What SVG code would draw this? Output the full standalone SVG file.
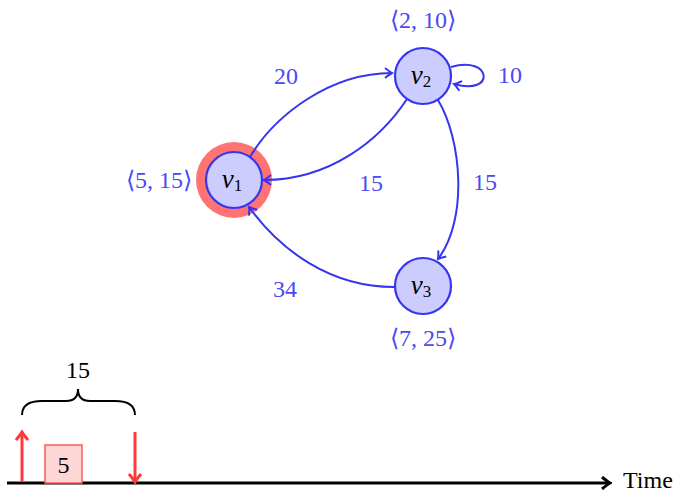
<svg xmlns="http://www.w3.org/2000/svg" width="686" height="494" viewBox="0 0 686 494">
<style>
.node{fill:#ccccff;stroke:#3535f0;stroke-width:2.2}
.edge{fill:none;stroke:#3535f0;stroke-width:2}
text{font-family:"Liberation Serif","Times New Roman",serif}
.t{font-size:24px}
.big{font-size:24px}
.blue{fill:#4a4af5}
.nl{font-size:27px;font-style:italic;fill:#000}
.sub{font-size:17px;font-style:normal}
.red{stroke:#ff3a3a;stroke-width:3;fill:none}
</style>
<defs>
<marker id="ah" viewBox="-10 -6 12 12" refX="0" refY="0" markerWidth="12" markerHeight="12" markerUnits="userSpaceOnUse" orient="auto">
<path d="M-7,-5 Q-2,-1 0,0 Q-2,1 -7,5" fill="none" stroke="#3535f0" stroke-width="2"/>
</marker>
<marker id="rh" viewBox="-10 -7 12 14" refX="0" refY="0" markerWidth="12" markerHeight="14" markerUnits="userSpaceOnUse" orient="auto">
<path d="M-8,-6 Q-2,-1 0,0 Q-2,1 -8,6" fill="none" stroke="#ff3a3a" stroke-width="3"/>
</marker>
<marker id="kh" viewBox="-10 -7 12 14" refX="0" refY="0" markerWidth="12" markerHeight="14" markerUnits="userSpaceOnUse" orient="auto">
<path d="M-8,-6 Q-2,-1 0,0 Q-2,1 -8,6" fill="none" stroke="#000" stroke-width="3"/>
</marker>
</defs>
<g id="v1">
<circle cx="234" cy="180" r="38" fill="#ff7373"/>
<circle class="node" cx="234" cy="180" r="28"/>
<text class="nl" x="232" y="188" text-anchor="middle">v<tspan class="sub" dy="3">1</tspan></text>
<text class="t blue" x="192" y="188" text-anchor="end">⟨5, 15⟩</text>
</g>
<g id="v2">
<circle class="node" cx="423" cy="76" r="28"/>
<text class="nl" x="421" y="84" text-anchor="middle">v<tspan class="sub" dy="3">2</tspan></text>
<text class="t blue" x="423" y="28" text-anchor="middle">⟨2, 10⟩</text>
</g>
<g id="v3">
<circle class="node" cx="423" cy="286" r="28"/>
<text class="nl" x="421" y="294" text-anchor="middle">v<tspan class="sub" dy="3">3</tspan></text>
<text class="t blue" x="423" y="346" text-anchor="middle">⟨7, 25⟩</text>
</g>
<g id="connectors">
<path class="edge" d="M250,157 C275,115 330,73 392,73" marker-end="url(#ah)"/>
<path class="edge" d="M407,99 C380,140 330,180 264,180" marker-end="url(#ah)"/>
<path class="edge" d="M438,100 C462,140 468,220 438,259" marker-end="url(#ah)"/>
<path class="edge" d="M394,287 C330,287 280,250 249,207" marker-end="url(#ah)"/>
<path class="edge" d="M451,67 C492,55 496,96 454,84" marker-end="url(#ah)"/>
<text class="t blue" x="286" y="84" text-anchor="middle">20</text>
<text class="t blue" x="371" y="191" text-anchor="middle">15</text>
<text class="t blue" x="485" y="190" text-anchor="middle">15</text>
<text class="t blue" x="510" y="83" text-anchor="middle">10</text>
<text class="t blue" x="285" y="297" text-anchor="middle">34</text>
</g>
<g id="timeline">
<line x1="7" y1="483" x2="610" y2="483" stroke="#000" stroke-width="3" marker-end="url(#kh)"/>
<text class="t" x="623" y="488" fill="#000">Time</text>
<rect x="45" y="445" width="37" height="38" fill="#ffd6d6" stroke="#ff5a5a" stroke-width="1.5"/>
<text class="t" x="63.5" y="473" text-anchor="middle" fill="#000">5</text>
<line class="red" x1="22" y1="482" x2="22" y2="432" marker-end="url(#rh)"/>
<line class="red" x1="135" y1="432" x2="135" y2="482" marker-end="url(#rh)"/>
<path d="M22,415 Q22,401 42,401 L66,401 Q78,401 78,389 Q78,401 90,401 L115,401 Q135,401 135,415" fill="none" stroke="#000" stroke-width="2"/>
<text class="big" x="78" y="378" text-anchor="middle" fill="#000">15</text>
</g>
</svg>
